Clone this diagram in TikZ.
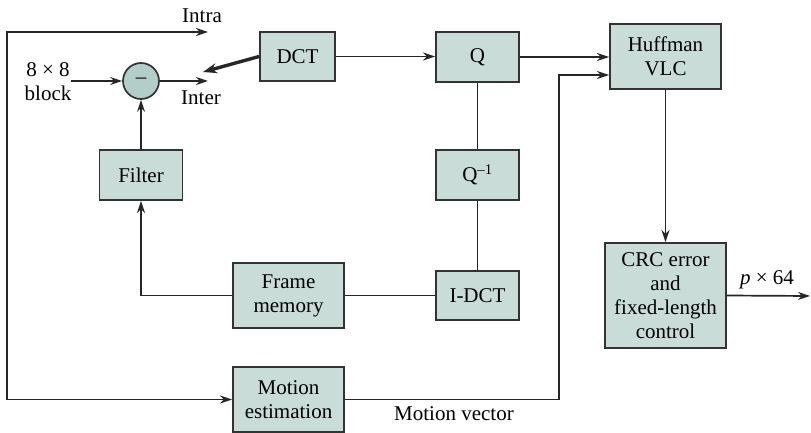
\documentclass[tikz,border=0pt]{standalone}
\usepackage{fontspec}
\setmainfont{Liberation Serif}
\newfontfamily\tnr{Liberation Serif}
\usetikzlibrary{arrows.meta}
\definecolor{boxfill}{HTML}{C9DCD8}
\definecolor{circfill}{HTML}{B3CEC9}
\definecolor{edge}{HTML}{333333}
\begin{document}
\begin{tikzpicture}[x=1pt,y=-1pt,
  blk/.style={draw=edge,line width=1.9pt,fill=boxfill,rectangle,inner sep=0pt,align=center,font=\tnr\fontsize{21}{24}\selectfont},
  lbl/.style={inner sep=0pt,align=center,font=\tnr\fontsize{21}{24}\selectfont},
  conn/.style={draw=black!85,line width=1.7pt},
  arr/.style={conn,-{Stealth[length=12pt,width=8pt]}},
  thickarr/.style={draw=black!85,line width=3.4pt,-{Stealth[length=14pt,width=10pt]}}]
\useasboundingbox (0,0) rectangle (811,433);

% blocks
\node[draw=edge,line width=1.7pt,fill=circfill,circle,minimum size=36pt,inner sep=0pt,font=\tnr\fontsize{21}{24}\selectfont] (sub) at (141,81) {\textendash};
\node[blk,minimum width=75pt,minimum height=49pt] (dct) at (297.5,56.5) {DCT};
\node[blk,minimum width=83pt,minimum height=50pt] (q) at (477.5,57) {Q};
\node[blk,minimum width=111pt,minimum height=65pt] (huff) at (665.5,56.5) {Huffman\\VLC};
\node[blk,minimum width=83pt,minimum height=50pt] (filt) at (141,175) {Filter};
\node[blk,minimum width=83pt,minimum height=50pt] (qinv) at (477.5,175) {Q\textsuperscript{\textendash1}};
\node[blk,minimum width=111pt,minimum height=65pt] (fmem) at (288.5,295.5) {Frame\\memory};
\node[blk,minimum width=83pt,minimum height=49pt] (idct) at (477.5,295.5) {I-DCT};
\node[blk,minimum width=121pt,minimum height=105pt] (crc) at (665.5,295.5) {CRC error\\and\\fixed-length\\control};
\node[blk,minimum width=111pt,minimum height=65pt] (me) at (288.5,399.5) {Motion\\estimation};

% coordinates
\coordinate (in) at (71,81);
\coordinate (inter) at (208,81);
\coordinate (intra) at (208,32);
\coordinate (lc) at (7,32);
\coordinate (sw) at (203,72);
\coordinate (out) at (810,296);
\coordinate (mvtop) at (559,75);

% labels
\node[lbl] (tintra) at (202,16) {Intra};
\node[lbl] (tinter) at (201,98) {Inter};
\node[lbl] (tin) at (48,82) {8 × 8\\block};
\node[lbl] (tp) at (767,280) {\textit{p} × 64};
\node[lbl] (tmv) at (454,414) {Motion vector};

% connectors
\draw[arr] (in) -- (sub.west);
\draw[arr] (sub.east) -- (inter);
\draw[conn,{Stealth[length=12pt,width=8pt]}-{Stealth[length=12pt,width=8pt]}] (intra) -- (lc) |- (me.west);
\draw[thickarr] (dct.west) -- (sw);
\draw[arr] (dct.east) -- (dct.east -| q.west);
\draw[arr] (q.east) -- (q.east -| huff.west);
\draw[conn] (q.south) -- (qinv.north);
\draw[conn] (qinv.south) -- (idct.north);
\draw[conn] (idct.west) -- (fmem.east);
\draw[arr] (fmem.west) -| (filt.south);
\draw[arr] (filt.north) -- (sub.south);
\draw[arr] (huff.south) -- (crc.north);
\draw[arr] (crc.east) -- (out);
\draw[arr] (me.east) -| (mvtop) -- (mvtop -| huff.west);
\end{tikzpicture}
\end{document}
